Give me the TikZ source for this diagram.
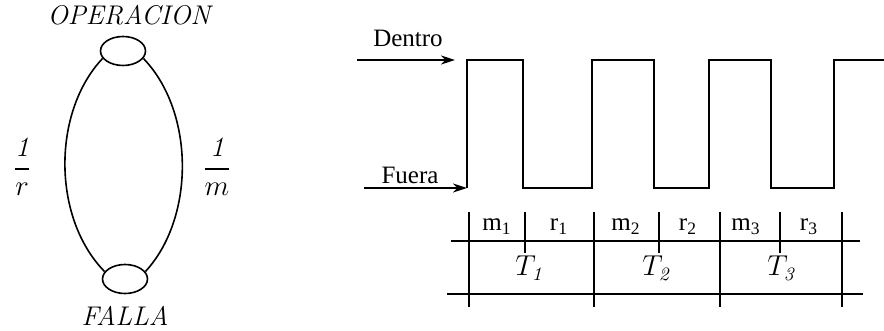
\documentclass[tikz,border=0pt]{standalone}
\usepackage{amsmath}
\usepackage{fontspec}
\newfontfamily\timesrm{Liberation Serif}
\usetikzlibrary{arrows.meta,positioning,shapes.geometric}
\tikzset{
  statenode/.style={draw,ellipse,line width=0.8pt,minimum width=22.5pt,
                    minimum height=14.5pt,inner sep=0pt},
  arcline/.style={line width=0.8pt},
  wave/.style={line width=1.1pt,line join=miter},
  gridline/.style={line width=1.1pt},
  pointer/.style={-{Stealth[length=7pt,width=4.5pt]},line width=1.1pt},
  rmlabel/.style={font=\fontsize{12.5}{14}\timesrm,inner sep=0pt},
  itlabel/.style={font=\fontsize{13.5}{15}\selectfont\itshape,inner sep=0pt},
}

\begin{document}
\begin{tikzpicture}[x=0.5pt,y=-0.5pt]
  \useasboundingbox (0,0) rectangle (884,331);
  % two-state model
  \node[statenode] (op) at (123,51) {};
  \node[statenode] (fa) at (125,279) {};
  \node[itlabel] (oplabel) at (129,15) {OPERACION};
  \node[itlabel] (falabel) at (125,316) {FALLA};
  \draw[arcline] (op.200) .. controls (52,112) and (52,218) .. (fa.160);
  \draw[arcline] (op.-20) .. controls (195,112) and (195,218) .. (fa.20);
  \node[font=\fontsize{14}{16}\selectfont] (rate1) at (22,167)
    {$\dfrac{\mathit{1}}{r}$};
  \node[font=\fontsize{14}{16}\selectfont] (rate2) at (217,167)
    {$\dfrac{\mathit{1}}{m}$};
  % in / out signal
  \coordinate (dstart) at (357,60);
  \coordinate (dend) at (455,60);
  \coordinate (fstart) at (364,188);
  \coordinate (fend) at (467,188);
  \node[rmlabel] (dentro) at (408,38) {Dentro};
  \node[rmlabel] (fuera) at (410,175) {Fuera};
  \draw[pointer] (dstart) -- (dend);
  \draw[pointer] (fstart) -- (fend);
  \draw[wave] (fend) -- (467,60) -- (523,60) -- (523,188) -- (592,188)
    -- (592,60) -- (654,60) -- (654,188) -- (709,188) -- (709,60)
    -- (771,60) -- (771,188) -- (834,188) -- (834,60) -- (884,60);
  % time table
  \draw[gridline] (451,241) -- (860,241);
  \draw[gridline] (447,294) -- (863,294);
  \foreach \x in {469,594,720,842}
    \draw[gridline] (\x,212) -- (\x,307);
  \foreach \x in {525,659,780}
    \draw[gridline] (\x,212) -- (\x,253);
  \foreach \x/\t [count=\i] in {497/m,559/r,626/m,688/r,746/m,809/r}{
    \pgfmathtruncatemacro\k{int((\i+1)/2)}
    \node[rmlabel,anchor=base] (lab\i) at (\x,231) {\t\textsubscript{\k}};
  }
  \foreach \x/\k in {529/1,656/2,781/3}
    \node[font=\fontsize{13.5}{15}\selectfont,anchor=base] (per\k) at (\x,276)
      {$T_{\mathit{\k}}$};
\end{tikzpicture}
\end{document}
